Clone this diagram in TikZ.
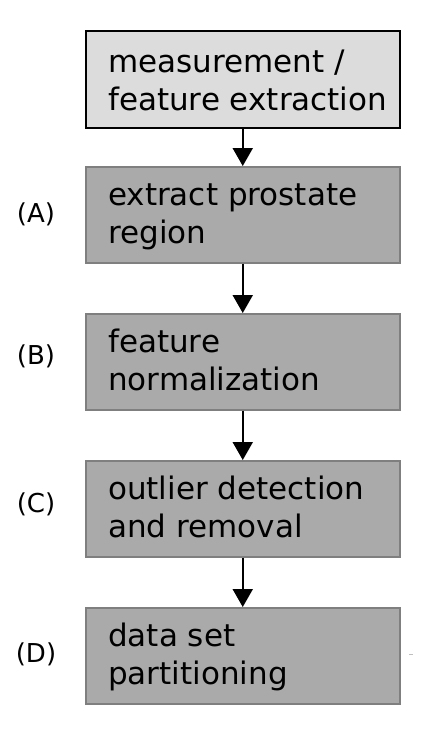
\documentclass[tikz,border=0pt]{standalone}
\usepackage{fontspec}
\setmainfont{DejaVu Sans}
\usetikzlibrary{arrows.meta,calc}
\definecolor{boxlight}{HTML}{DCDCDC}
\definecolor{boxdark}{HTML}{AAAAAA}
\definecolor{boxedge}{HTML}{7F7F7F}
\begin{document}
\begin{tikzpicture}[x=1pt,y=-1pt,
  stepbox/.style={draw=boxedge, line width=1.5pt, fill=boxdark, minimum width=314pt, minimum height=96pt, inner sep=0pt, anchor=north west},
  firstbox/.style={stepbox, draw=black, fill=boxlight, minimum height=97pt},
  boxtext/.style={anchor=north west, inner sep=0pt, align=left, font=\fontsize{31}{38}\selectfont},
  tag/.style={font=\fontsize{26}{30}\selectfont, inner sep=0pt},
  flow/.style={line width=2pt, -{Triangle[length=18pt,width=20pt]}}
]
\useasboundingbox (0,0) rectangle (431,739);
\fill[white] (0,0) rectangle (431,739);

\node[firstbox] (m) at (85,30) {};
\node[stepbox] (a) at (85,166) {};
\node[stepbox] (b) at (85,313) {};
\node[stepbox] (c) at (85,460) {};
\node[stepbox] (d) at (85,607) {};

\node[boxtext] (mt) at ($(m.north west)+(23,18)$) {\rule{0pt}{24pt}measurement /\\feature extraction};
\node[boxtext] (at) at ($(a.north west)+(23,15)$) {\rule{0pt}{24pt}extract prostate\\region};
\node[boxtext] (bt) at ($(b.north west)+(23,15)$) {\rule{0pt}{24pt}feature\\normalization};
\node[boxtext] (ct) at ($(c.north west)+(23,15)$) {\rule{0pt}{24pt}outlier detection\\and removal};
\node[boxtext] (dt) at ($(d.north west)+(23,15)$) {\rule{0pt}{24pt}data set\\partitioning};

\node[tag] (la) at (36,214) {(A)};
\node[tag] (lb) at (36,356) {(B)};
\node[tag] (lc) at (36,504) {(C)};
\node[tag] (ld) at (36,654) {(D)};

\draw[flow] (m.south) -- (a.north);
\draw[flow] (a.south) -- (b.north);
\draw[flow] (b.south) -- (c.north);
\draw[flow] (c.south) -- (d.north);

\draw[gray!50, line width=1pt] (409,654) -- (413,654);
\end{tikzpicture}
\end{document}
